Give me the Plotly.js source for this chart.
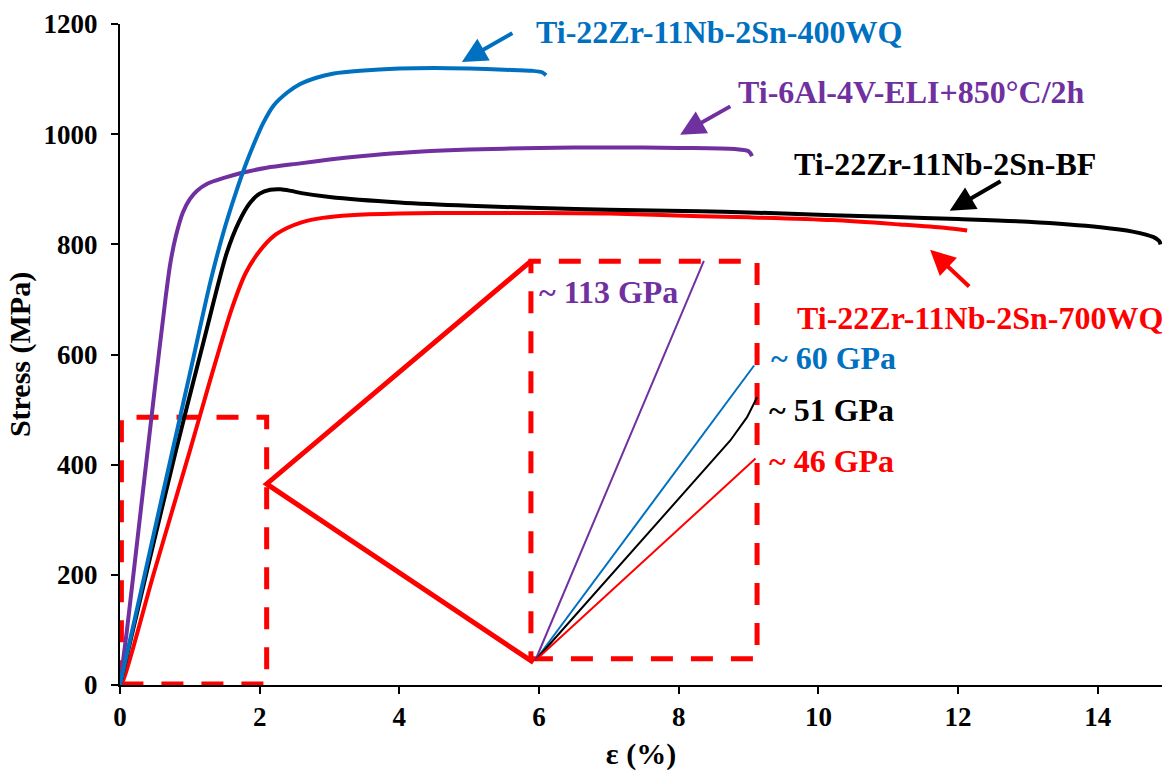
<!DOCTYPE html>
<html>
<head>
<meta charset="utf-8">
<script src="https://cdn.plot.ly/plotly-3.0.1.min.js"></script>
<style>html,body{margin:0;padding:0;background:#fff;}#chart{width:1164px;height:771px;}</style>
</head>
<body>
<div id="chart"></div>
<script>
// ---- Data (strain %, stress MPa) ----
const wq400Strain = [0, 0.3, 0.6, 1.0, 1.3, 1.5, 1.67, 1.8, 1.91, 2.05, 2.2, 2.4, 2.58, 2.8, 3.06, 3.44, 4.0, 4.5, 5.0, 5.5, 5.9, 6.05, 6.1];
const wq400Stress = [0, 170, 340, 565, 735, 830, 898, 945, 980, 1020, 1052, 1076, 1091, 1102, 1110, 1115, 1119, 1120, 1119, 1117, 1115, 1112, 1107];

const eliStrain = [0, 0.1, 0.3, 0.5, 0.65, 0.72, 0.8, 0.9, 1.0, 1.1, 1.25, 1.5, 1.72, 2.1, 2.58, 3.0, 3.44, 4.0, 5.0, 6.0, 7.0, 8.0, 8.8, 9.0, 9.05];
const eliStress = [0, 100, 320, 540, 700, 765, 815, 858, 882, 897, 910, 921, 929, 939, 947, 954, 960, 966, 972, 975, 976, 975, 973, 969, 960];

const bfStrain = [0, 0.4, 0.8, 1.2, 1.53, 1.7, 1.86, 2.0, 2.15, 2.3, 2.45, 2.6, 3.0, 4.0, 5.0, 6.0, 7.0, 8.3, 9.0, 10.2, 11.0, 12.0, 13.0, 14.04, 14.5, 14.8, 14.88, 14.9];
const bfStress = [0, 215, 425, 625, 785, 840, 875, 892, 899, 900, 897, 893, 886, 876, 870, 866, 863, 860, 858, 853, 850, 846, 841, 831, 823, 813, 806, 800];

const wq700Strain = [0, 0.05, 0.48, 1.0, 1.29, 1.6, 1.8, 2.0, 2.2, 2.4, 2.6, 2.9, 3.3, 4.0, 5.0, 6.0, 7.0, 8.31, 9.0, 10.2, 11.17, 11.8, 12.13];
const wq700Stress = [0, 10, 201, 425, 553, 683, 748, 788, 815, 830, 840, 848, 853, 856, 857, 857, 856, 851, 849, 844, 836, 830, 825];

// ---- Inset (magnified elastic region) ----
const insetEliX = [5.946, 8.36];
const insetEliY = [44.5, 770];
const insetWq400X = [5.946, 9.08];
const insetWq400Y = [44.5, 580];
const insetBfX = [5.946, 6.877, 7.593, 8.309, 8.739, 8.979, 9.122];
const insetBfY = [44.5, 177.6, 280.5, 383.4, 443.9, 486.2, 522.5];
const insetWq700X = [5.946, 9.10];
const insetWq700Y = [44.5, 411];

// Zoom boxes and connector
const zoomBoxX = [0.02, 2.1, 2.1, 0.02, 0.02];
const zoomBoxY = [2, 2, 486, 486, 2];
const insetBoxX = [5.884, 9.122, 9.122, 5.884, 5.884];
const insetBoxY = [47.6, 47.6, 769.4, 769.4, 47.6];
const connectorX = [5.884, 2.1, 5.92];
const connectorY = [769.4, 365, 41];

// Labels
const seriesNames = ['Ti-22Zr-11Nb-2Sn-400WQ', 'Ti-6Al-4V-ELI+850°C/2h', 'Ti-22Zr-11Nb-2Sn-BF', 'Ti-22Zr-11Nb-2Sn-700WQ'];
const modulusLabels = ['~ 60 GPa', '~ 113 GPa', '~ 51 GPa', '~ 46 GPa'];
const xTicks = [0, 2, 4, 6, 8, 10, 12, 14];
const yTicks = [0, 200, 400, 600, 800, 1000, 1200];

const BLUE = '#0070C0', PURPLE = '#7030A0', BLACK = '#000000', RED = '#FF0000';
const FONT = 'Liberation Serif, Times New Roman, serif';

const traces = [
  {x: zoomBoxX, y: zoomBoxY, mode: 'lines', line: {color: RED, width: 5, dash: '22px,18px'}},
  {x: insetBoxX, y: insetBoxY, mode: 'lines', line: {color: RED, width: 5, dash: '22px,18px'}},
  {x: connectorX, y: connectorY, mode: 'lines', line: {color: RED, width: 5}},
  {x: wq700Strain, y: wq700Stress, mode: 'lines', name: seriesNames[3], line: {color: RED, width: 4, shape: 'spline', smoothing: 0.8}},
  {x: bfStrain, y: bfStress, mode: 'lines', name: seriesNames[2], line: {color: BLACK, width: 4, shape: 'spline', smoothing: 0.8}},
  {x: eliStrain, y: eliStress, mode: 'lines', name: seriesNames[1], line: {color: PURPLE, width: 4, shape: 'spline', smoothing: 0.8}},
  {x: wq400Strain, y: wq400Stress, mode: 'lines', name: seriesNames[0], line: {color: BLUE, width: 4, shape: 'spline', smoothing: 0.8}},
  {x: insetEliX, y: insetEliY, mode: 'lines', line: {color: PURPLE, width: 2}},
  {x: insetWq400X, y: insetWq400Y, mode: 'lines', line: {color: BLUE, width: 2}},
  {x: insetBfX, y: insetBfY, mode: 'lines', line: {color: BLACK, width: 2}},
  {x: insetWq700X, y: insetWq700Y, mode: 'lines', line: {color: RED, width: 2}}
];

function txt(x, y, text, color) {
  return {x: x, y: y, xref: 'x', yref: 'y', text: text, showarrow: false, xanchor: 'left', yanchor: 'middle',
          font: {family: FONT, size: 32, color: color, weight: 'bold'}};
}
function arr(x, y, ax, ay, color) {
  return {x: x, y: y, ax: ax, ay: ay, xref: 'x', yref: 'y', axref: 'x', ayref: 'y', text: '', showarrow: true,
          arrowhead: 2, arrowsize: 1.25, arrowwidth: 4, arrowcolor: color, standoff: 0, startstandoff: 0};
}

const annotations = [
  txt(5.93, 1185, seriesNames[0], BLUE),
  txt(8.82, 1077, seriesNames[1], PURPLE),
  txt(9.62, 945, seriesNames[2], BLACK),
  txt(9.66, 666, seriesNames[3], RED),
  txt(5.97, 713, modulusLabels[1], PURPLE),
  txt(9.29, 594, modulusLabels[0], BLUE),
  txt(9.26, 499, modulusLabels[2], BLACK),
  txt(9.26, 406, modulusLabels[3], RED),
  arr(4.895, 1131, 5.64, 1185, BLUE),
  arr(8.02, 999, 8.76, 1052, PURPLE),
  arr(11.88, 861, 12.63, 916, BLACK),
  arr(11.6, 790, 12.18, 721, RED)
];

const layout = {
  width: 1164, height: 771,
  margin: {l: 120, r: 2, t: 24, b: 86},
  paper_bgcolor: '#fff', plot_bgcolor: '#fff',
  showlegend: false,
  xaxis: {
    range: [0, 14.92], tickvals: xTicks, ticktext: xTicks.map(String),
    showgrid: false, zeroline: false, showline: true, linecolor: '#000', linewidth: 2,
    ticks: 'outside', ticklen: 7, tickwidth: 2, tickcolor: '#000',
    tickfont: {family: FONT, size: 27, color: '#000', weight: 'bold'},
    title: {text: 'ε (%)', font: {family: FONT, size: 30, color: '#000', weight: 'bold'}, standoff: 16}
  },
  yaxis: {
    range: [0, 1200], tickvals: yTicks, ticktext: yTicks.map(String),
    showgrid: false, zeroline: false, showline: true, linecolor: '#000', linewidth: 2,
    ticks: 'outside', ticklen: 7, tickwidth: 2, tickcolor: '#000', ticklabelstandoff: 8,
    tickfont: {family: FONT, size: 27, color: '#000', weight: 'bold'},
    title: {text: 'Stress (MPa)', font: {family: FONT, size: 30, color: '#000', weight: 'bold'}, standoff: 4}
  },
  annotations: annotations
};

Plotly.newPlot('chart', traces, layout, {displayModeBar: false, staticPlot: true});
</script>
</body>
</html>
